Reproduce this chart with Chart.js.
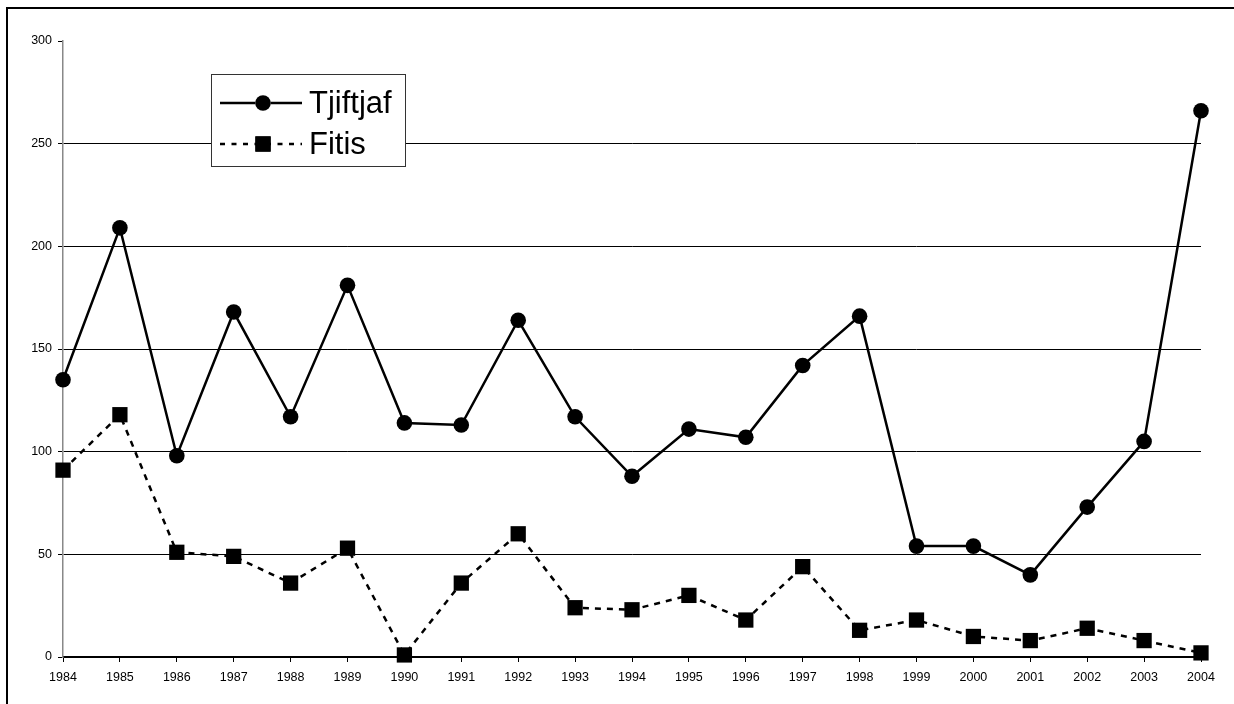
<!DOCTYPE html>
<html>
<head>
<meta charset="utf-8">
<script src="https://cdn.jsdelivr.net/npm/chart.js@4/dist/chart.umd.min.js"></script>
<style>
  body { margin: 0; background: #fff; }
  canvas { display: block; }
</style>
</head>
<body>
<canvas id="birdChart" width="1234" height="704"></canvas>
<script>
// data
const years = ['1984', '1985', '1986', '1987', '1988', '1989', '1990', '1991', '1992', '1993', '1994',
  '1995', '1996', '1997', '1998', '1999', '2000', '2001', '2002', '2003', '2004'];
const tjiftjaf = [135, 209, 98, 168, 117, 181, 114, 113, 164, 117, 88, 111, 107, 142, 166, 54, 54, 40, 73, 105, 266];
const fitis = [91, 118, 51, 49, 36, 53, 1, 36, 60, 24, 23, 30, 18, 44, 13, 18, 10, 8, 14, 8, 2];
const yTicks = [0, 50, 100, 150, 200, 250, 300];

const FONT = '"Liberation Sans", Arial, sans-serif';

// outer frame, runs off the right and bottom edges like the original
const framePlugin = {
  id: 'frame',
  beforeDraw(chart) {
    const ctx = chart.ctx;
    ctx.save();
    ctx.fillStyle = '#fff';
    ctx.fillRect(0, 0, chart.width, chart.height);
    ctx.strokeStyle = '#000';
    ctx.lineWidth = 2;
    ctx.strokeRect(7, 8, chart.width + 20, chart.height + 20);
    ctx.restore();
  }
};

// boxed legend with the marker sitting in the middle of the line sample
const boxLegend = {
  id: 'boxLegend',
  afterDraw(chart) {
    const ctx = chart.ctx;
    const box = { x: 211, y: 74, w: 194, h: 92 };
    ctx.save();
    ctx.fillStyle = '#fff';
    ctx.fillRect(box.x, box.y, box.w, box.h);
    ctx.strokeStyle = '#333';
    ctx.lineWidth = 1;
    ctx.strokeRect(box.x + 0.5, box.y + 0.5, box.w, box.h);

    chart.data.datasets.forEach((ds, i) => {
      const cy = box.y + 29 + i * 41;
      ctx.strokeStyle = '#000';
      ctx.lineWidth = ds.borderWidth;
      ctx.setLineDash(ds.borderDash ? [5, 6.5] : []);
      ctx.beginPath();
      ctx.moveTo(220, cy);
      ctx.lineTo(302, cy);
      ctx.stroke();
      ctx.setLineDash([]);
      Chart.helpers.drawPoint(ctx, {
        pointStyle: ds.pointStyle,
        radius: ds.pointRadius,
        borderWidth: 0,
        rotation: 0
      }, 263, cy);
      ctx.fillStyle = '#000';
      ctx.fill();
      ctx.font = '31px ' + FONT;
      ctx.textBaseline = 'middle';
      ctx.textAlign = 'left';
      ctx.fillText(ds.label, 309, cy + 1);
    });
    ctx.restore();
  }
};

new Chart(document.getElementById('birdChart'), {
  type: 'line',
  data: {
    labels: years,
    datasets: [
      {
        label: 'Tjiftjaf',
        data: tjiftjaf,
        borderColor: '#000',
        backgroundColor: '#000',
        borderWidth: 2.5,
        pointStyle: 'circle',
        pointRadius: 7.8,
        pointBorderWidth: 0,
        tension: 0,
        clip: false
      },
      {
        label: 'Fitis',
        data: fitis,
        borderColor: '#000',
        backgroundColor: '#000',
        borderWidth: 2.5,
        borderDash: [6, 6],
        pointStyle: 'rect',
        pointRadius: 10.8,
        pointBorderWidth: 0,
        tension: 0,
        clip: false
      }
    ]
  },
  options: {
    responsive: false,
    animation: false,
    layout: { padding: { left: 0, top: 41, right: 33, bottom: 0 } },
    plugins: {
      legend: { display: false },
      tooltip: { enabled: false }
    },
    scales: {
      x: {
        offset: false,
        grid: { drawOnChartArea: false, tickLength: 5, tickColor: '#000' },
        border: { color: '#000', width: 1.5 },
        ticks: { color: '#000', font: { family: FONT, size: 12.5 }, padding: 8, maxRotation: 0, autoSkip: false },
        afterFit(scale) { scale.height = 47; }
      },
      y: {
        min: 0,
        max: 300,
        afterBuildTicks(scale) { scale.ticks = yTicks.map(v => ({ value: v })); },
        grid: {
          color: c => (c.tick && c.tick.value === 300 ? 'rgba(0,0,0,0)' : '#000'),
          tickColor: '#000',
          tickLength: 5,
          lineWidth: 1
        },
        border: { color: '#888', width: 1.5 },
        ticks: { color: '#000', font: { family: FONT, size: 12.5 }, padding: 6 },
        afterFit(scale) { scale.width = 63; }
      }
    }
  },
  plugins: [framePlugin, boxLegend]
});
</script>
</body>
</html>
